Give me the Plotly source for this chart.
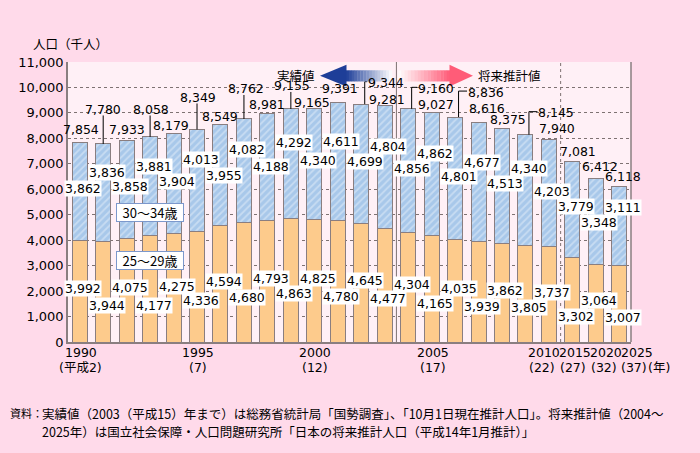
import plotly.graph_objects as go

# ---------------- data ----------------
years = ["1990", "1991", "1992", "1993", "1994", "1995", "1996", "1997", "1998",
         "1999", "2000", "2001", "2002", "2003", "2004", "2005", "2006", "2007",
         "2008", "2009", "2010", "2015", "2020", "2025"]
age25_29 = [3992, 3944, 4075, 4177, 4275, 4336, 4594, 4680, 4793, 4863, 4825, 4780,
            4645, 4477, 4304, 4165, 4035, 3939, 3862, 3805, 3737, 3302, 3064, 3007]
age30_34 = [3862, 3836, 3858, 3881, 3904, 4013, 3955, 4082, 4188, 4292, 4340, 4611,
            4699, 4804, 4856, 4862, 4801, 4677, 4513, 4340, 4203, 3779, 3348, 3111]
totals = [7854, 7780, 7933, 8058, 8179, 8349, 8549, 8762, 8981, 9155, 9165, 9391,
          9344, 9281, 9160, 9027, 8836, 8616, 8375, 8145, 7940, 7081, 6412, 6118]
tick_idx = [0, 5, 10, 15, 20, 21, 22, 23]
tick_year = ["1990", "1995", "2000", "2005", "2010", "2015", "2020", "2025"]
tick_era = ["(平成2)", "(7)", "(12)", "(17)", "(22)", "(27)", "(32)", "(37)"]
y_ticks = list(range(0, 11001, 1000))
series_names = ["25～29歳", "30～34歳"]

# ---------------- layout / label placement (pixels) ----------------
W, H = 700, 453
L, R, T, B = 68, 631, 62, 342.5
tot_dy = [12.6, 34.5, 10.6, 27.4, 8, 32, 8, 30, 8.5, 23, 6.5, 14,
          21.5, 6.5, 20.5, 7.5, 25, 14.5, 9.4, 22, 11.4, 10.3, 12.3, 10]
tot_dx = [1, 0, 0, 1, -3, 1, 0, 2, 0, 1, -2, 2,
          25, 2, 28, 4, 31, 8, 6, 31, 8, 6, 4, 4]
lead_straight = [1, 3, 5, 7, 9]
lead_bracket = [12, 14, 16, 19]
up_dy = [-46.7, -28.2, -46.1, -29.3, -47.4, -30, -51.1, -30.5, -52.8, -33.8, -51.7, -38.2,
         -57, -40.4, -59.9, -41.5, -59.7, -39.5, -54.6, -34.1, -51.3, -44.4, -44, -20.9]
low_py = [53.2, 36.5, 54.2, 36.5, 55.8, 41.5, 60.5, 44.8, 63.2, 48.2, 63.2, 45.5,
          61.5, 43.2, 57.5, 38.2, 53.2, 35.8, 51.5, 34.2, 49.8, 25.8, 41.5, 24.8]
year_dx = [1, 1, 0.6, 1, -5, 2.5, 10, 17.5]
era_dx = [1, 1, 0.6, 1, -7.3, 0.4, 8, 14.5]

PAPER = "#FFDAEA"
PLOT = "#FFF0F6"
ORANGE = "#FDCB8C"
BLUE = "#A8C8EA"
EDGE = "#8A7E80"
GRID = "#7E7272"
NUM_FONT = "DejaVu Sans, Noto Sans CJK JP"
JP_FONT = "Noto Sans CJK JP"


def px(x):
    return (x - L) / (R - L)


def py(y):
    return (B - y) / (B - T)


idx = list(range(len(years)))

fig = go.Figure()
fig.add_trace(go.Bar(
    x=idx, y=age25_29, name=series_names[0], width=0.64,
    marker=dict(color=ORANGE, line=dict(color=EDGE, width=1)),
    hoverinfo="skip"))
fig.add_trace(go.Bar(
    x=idx, y=age30_34, name=series_names[1], width=0.64,
    marker=dict(color=BLUE, line=dict(color=EDGE, width=1),
                pattern=dict(shape="/", bgcolor=BLUE, fgcolor="#E6EFF9",
                             size=5, solidity=0.35)),
    hoverinfo="skip"))

ann = []
shapes = []

# total labels
for i, t in enumerate(totals):
    ann.append(dict(x=i, y=t, xref="x", yref="y", text=f"{t:,}", showarrow=False,
                    xshift=tot_dx[i], yshift=tot_dy[i], xanchor="center", yanchor="middle",
                    font=dict(family=NUM_FONT, size=12.5, color="black")))

for i in lead_straight:
    shapes.append(dict(type="line", xref="x", yref="y", x0=i, x1=i,
                       ysizemode="pixel", yanchor=totals[i], y0=0, y1=tot_dy[i] - 6,
                       line=dict(color="black", width=1)))
for i in lead_bracket:
    shapes.append(dict(type="line", xref="x", yref="y", xsizemode="pixel", xanchor=i,
                       x0=3.5, x1=3.5, ysizemode="pixel", yanchor=totals[i],
                       y0=0, y1=tot_dy[i] + 1, line=dict(color="black", width=1)))
    shapes.append(dict(type="line", xref="x", yref="y", xsizemode="pixel", xanchor=i,
                       x0=3.5, x1=tot_dx[i] - 19, ysizemode="pixel", yanchor=totals[i],
                       y0=tot_dy[i] + 1, y1=tot_dy[i] + 1, line=dict(color="black", width=1)))

# 30-34 labels
for i, v in enumerate(age30_34):
    ann.append(dict(x=i, y=totals[i], xref="x", yref="y", text=f"{v:,}", showarrow=False,
                    xshift=3.5, yshift=up_dy[i], xanchor="center", yanchor="middle",
                    font=dict(family=NUM_FONT, size=12.5, color="black"),
                    bgcolor="white", borderpad=0))
# 25-29 labels
for i, v in enumerate(age25_29):
    ann.append(dict(x=i, y=0, xref="x", yref="y", text=f"{v:,}", showarrow=False,
                    xshift=3.5, yshift=low_py[i], xanchor="center", yanchor="middle",
                    font=dict(family=NUM_FONT, size=12.5, color="black"),
                    bgcolor="white", borderpad=0))

# x tick labels
for k, i in enumerate(tick_idx):
    ann.append(dict(x=i, y=py(353), xref="x", yref="paper", text=tick_year[k],
                    showarrow=False, xshift=year_dx[k], xanchor="center", yanchor="middle",
                    font=dict(family=NUM_FONT, size=12.5, color="black")))
    ann.append(dict(x=i, y=py(368), xref="x", yref="paper", text=tick_era[k],
                    showarrow=False, xshift=era_dx[k], xanchor="center", yanchor="middle",
                    font=dict(family=NUM_FONT, size=12.5, color="black")))
ann.append(dict(x=px(659), y=py(368), xref="paper", yref="paper", text="(年)",
                showarrow=False, xanchor="center", yanchor="middle",
                font=dict(family=NUM_FONT, size=12.5, color="black")))

# axis title
ann.append(dict(x=px(31), y=py(43), xref="paper", yref="paper", text="人口（千人）",
                showarrow=False, xanchor="left", yanchor="middle",
                font=dict(family=JP_FONT, size=12.5, color="black")))

# series legend boxes
for name, cy in [(series_names[1], 213), (series_names[0], 260.5)]:
    ann.append(dict(x=px(150), y=py(cy), xref="paper", yref="paper", text=name,
                    showarrow=False, xanchor="center", yanchor="middle",
                    width=64, height=15, bgcolor="white", bordercolor="#7C98CC",
                    borderwidth=1, borderpad=1,
                    font=dict(family=JP_FONT, size=13, color="black")))

# arrows
ann.append(dict(x=px(317), y=py(75.7), xref="paper", yref="paper", text="実績値",
                showarrow=False, xanchor="right", yanchor="middle",
                font=dict(family=JP_FONT, size=12.5, color="black")))
ann.append(dict(x=px(476), y=py(75.7), xref="paper", yref="paper", text="将来推計値",
                showarrow=False, xanchor="left", yanchor="middle",
                font=dict(family=JP_FONT, size=12.5, color="black")))


def mix(c1, c2, f):
    return "rgb(%d,%d,%d)" % tuple(round(a + (b - a) * f) for a, b in zip(c1, c2))


dark_blue = (30, 62, 152)
pink = (255, 92, 120)
white = (255, 255, 255)
nseg = 16
for k in range(nseg):
    x0 = 346 + (392 - 346) * k / nseg
    x1 = 346 + (392 - 346) * (k + 1) / nseg
    shapes.append(dict(type="rect", xref="paper", yref="paper", x0=px(x0), x1=px(x1 + 0.3),
                       y0=py(81.5), y1=py(70.3), line=dict(width=0),
                       fillcolor=mix(dark_blue, white, (k + 0.5) / nseg)))
    x0 = 398 + (450 - 398) * k / nseg
    x1 = 398 + (450 - 398) * (k + 1) / nseg
    shapes.append(dict(type="rect", xref="paper", yref="paper", x0=px(x0), x1=px(x1 + 0.3),
                       y0=py(81.5), y1=py(70.3), line=dict(width=0),
                       fillcolor=mix(white, pink, (k + 0.5) / nseg)))
shapes.append(dict(type="path", xref="paper", yref="paper",
                   path=f"M {px(320)},{py(75.7)} L {px(346.5)},{py(64.8)} L {px(346.5)},{py(86.6)} Z",
                   fillcolor=mix(dark_blue, white, 0.0), line=dict(width=0)))
shapes.append(dict(type="path", xref="paper", yref="paper",
                   path=f"M {px(473)},{py(75.7)} L {px(449.5)},{py(64.8)} L {px(449.5)},{py(86.6)} Z",
                   fillcolor=mix(white, pink, 1.0), line=dict(width=0)))

# separators and border
shapes.append(dict(type="line", xref="x", yref="paper", x0=13.5, x1=13.5, y0=0, y1=1,
                   line=dict(color=GRID, width=1)))
shapes.append(dict(type="line", xref="x", yref="paper", x0=20.5, x1=20.5, y0=0, y1=1,
                   line=dict(color=GRID, width=1, dash="3px,3px")))
shapes.append(dict(type="line", xref="paper", yref="paper", x0=1, x1=1, y0=0, y1=1,
                   line=dict(color=EDGE, width=1.5)))

# footnote
ann.append(dict(x=px(8), y=py(414), xref="paper", yref="paper", text="資料：",
                showarrow=False, xanchor="left", yanchor="middle",
                font=dict(family=JP_FONT, size=11, color="black")))
ann.append(dict(x=px(40), y=py(414), xref="paper", yref="paper",
                text="実績値（2003（平成15）年まで）は総務省統計局「国勢調査」、「10月1日現在推計人口」。将来推計値（2004～",
                showarrow=False, xanchor="left", yanchor="middle",
                font=dict(family=JP_FONT, size=12.5, color="black")))
ann.append(dict(x=px(40), y=py(432), xref="paper", yref="paper",
                text="2025年）は国立社会保障・人口問題研究所「日本の将来推計人口（平成14年1月推計）」",
                showarrow=False, xanchor="left", yanchor="middle",
                font=dict(family=JP_FONT, size=12.5, color="black")))

fig.update_layout(
    width=W, height=H,
    margin=dict(l=L, r=W - R, t=T, b=H - B, autoexpand=False),
    paper_bgcolor=PAPER, plot_bgcolor=PLOT,
    barmode="stack", showlegend=False,
    annotations=ann, shapes=shapes,
    xaxis=dict(range=[-0.5, 23.5], showticklabels=False, showgrid=False, zeroline=False,
               showline=True, linecolor=EDGE, linewidth=1.5, ticks="", fixedrange=True),
    yaxis=dict(range=[0, 11000], tickvals=y_ticks, tickformat=",d", showgrid=True,
               gridcolor=GRID, gridwidth=1, griddash="3px,3px", zeroline=False,
               showline=True, linecolor=EDGE, linewidth=1.5, ticks="",
               tickfont=dict(family=NUM_FONT, size=13, color="black"), fixedrange=True),
)

fig.write_html("out.html", config={"displayModeBar": False},
               post_script="document.body.style.margin='0px';document.body.style.padding='0px';")
